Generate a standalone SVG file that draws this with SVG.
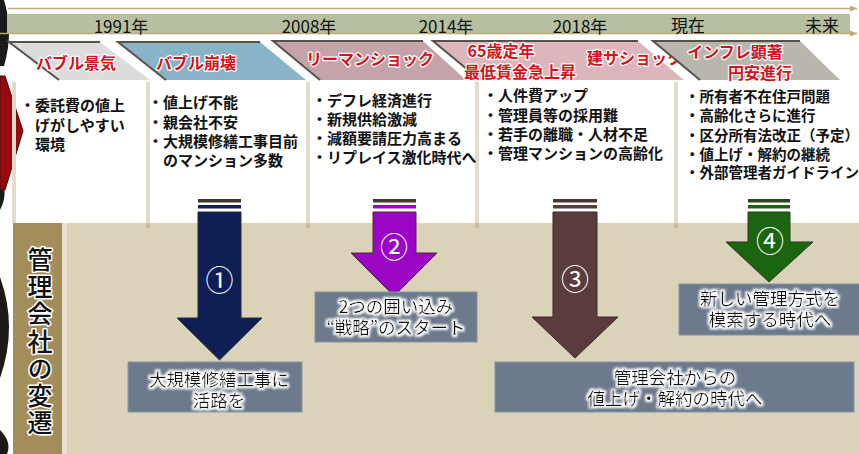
<svg xmlns="http://www.w3.org/2000/svg" width="859" height="454" viewBox="0 0 859 454">
<defs>
<style>
.yr{font-family:"Noto Sans CJK JP","Noto Sans",sans-serif;font-size:17px;font-weight:400;fill:#111;text-anchor:middle}
.bn{font-family:"Noto Sans CJK JP","Noto Sans",sans-serif;font-size:16px;font-weight:700;fill:#d2121c;stroke:#fff;stroke-width:2.5;stroke-linejoin:round;paint-order:stroke;text-anchor:middle}
.bl{font-family:"Noto Sans CJK JP","Noto Sans",sans-serif;font-size:15px;font-weight:700;fill:#111}
.bl5{font-size:14.5px}
.bx{font-family:"Noto Sans CJK JP","Noto Sans",sans-serif;font-size:17.5px;font-weight:400;fill:#111;text-anchor:middle;filter:url(#glow)}
.num{font-family:"Noto Sans CJK JP","Noto Sans",sans-serif;font-size:28px;font-weight:400;fill:#fff;text-anchor:middle}
.vt{font-family:"Noto Sans CJK JP","Noto Sans",sans-serif;font-size:25px;font-weight:500;fill:#111;stroke:#fff;stroke-width:3;stroke-linejoin:round;paint-order:stroke;writing-mode:vertical-rl;letter-spacing:2.2px}
.div{stroke:#e2dccb;stroke-width:4}
.divb{stroke:#c9bd9c;stroke-width:4}
.box{fill:#6d7a8c;stroke:#8893a2;stroke-width:1}
.sh{fill:none;stroke:#55524a;stroke-width:2}
.tl{stroke:#c0a878;stroke-width:1.5;fill:none}
</style>
<filter id="glow" x="-10%" y="-40%" width="120%" height="180%">
<feMorphology in="SourceAlpha" operator="dilate" radius="1.6" result="d"/>
<feGaussianBlur in="d" stdDeviation="0.9" result="b"/>
<feFlood flood-color="#ffffff"/>
<feComposite in2="b" operator="in" result="w"/>
<feMerge><feMergeNode in="w"/><feMergeNode in="SourceGraphic"/></feMerge>
</filter>
<marker id="ah" markerWidth="8" markerHeight="8" refX="7" refY="4" orient="auto" markerUnits="userSpaceOnUse">
<path d="M0,1 L7,4 L0,7 Z" fill="#c0a878"/>
</marker>
</defs>
<rect x="0" y="0" width="859" height="454" fill="#fff"/>

<g id="bottom-area">
<rect x="62" y="223" width="797" height="231" fill="#dbd2ba"/>
<rect x="62" y="223" width="5" height="231" fill="#e8e1cf"/>
<rect x="13" y="223" width="49" height="231" fill="#a38d5a"/>
</g>

<g id="left-edge">
<path d="M0,0 L4,0 Q14,32 4,66 L0,66 Z" fill="#1a1a1a"/>
<path d="M0,178 Q9,193 0,210 Z" fill="#1a1a1a"/>
<path d="M0,76 L5,76 L23,131 L5,190 L0,190 Z" fill="#9a0a0c" stroke="#3a1010" stroke-width="1"/>
<path d="M0,277 Q18,327 0,378 Z" fill="#1a1a1a"/>
<path d="M0,430 Q12,442 7,454 L0,454 Z" fill="#1a1a1a"/>
</g>

<g id="timeline">
<line class="tl" x1="8" y1="8.5" x2="857" y2="8.5" marker-end="url(#ah)"/>
<rect x="7" y="14" width="843" height="19" fill="#b6c0a1"/>
<line class="tl" x1="0" y1="33.5" x2="857" y2="33.5" marker-end="url(#ah)"/>
<text class="yr" x="121" y="32.5">1991年</text>
<text class="yr" x="309" y="32.5">2008年</text>
<text class="yr" x="446" y="32.5">2014年</text>
<text class="yr" x="580" y="32.5">2018年</text>
<text class="yr" x="688" y="32">現在</text>
<text class="yr" x="822" y="32">未来</text>
</g>

<g id="banner-bubble">
<polygon points="9,42 100,42 150,80 59,80" fill="#dcdcdc"/>
<polyline class="sh" points="59,80 9,42 100,42"/>
<text class="bn" x="76" y="69">バブル景気</text>
</g>
<g id="banner-collapse">
<polygon points="118,42 260,42 306,80 166,80" fill="#89b4c8"/>
<polyline class="sh" points="166,80 118,42 260,42"/>
<text class="bn" x="196" y="69">バブル崩壊</text>
</g>
<g id="banner-lehman">
<polygon points="273,41 423,41 466,80 320,80" fill="#c4a3a9"/>
<polyline class="sh" points="320,80 273,41 423,41"/>
<text class="bn" x="370" y="65">リーマンショック</text>
</g>
<g id="banner-2018">
<polygon points="433,41 638,41 684,80 480,80" fill="#dcb6ba"/>
<polyline class="sh" points="480,80 433,41 638,41"/>
<text class="bn" x="501" y="57">65歳定年</text>
<text class="bn" x="520" y="77.5">最低賃金急上昇</text>
<text class="bn" x="635" y="64">建サショック</text>
</g>
<g id="banner-now">
<polygon points="653,41 800,41 840,80 700,80" fill="#b9b6ae"/>
<polyline class="sh" points="700,80 653,41 800,41"/>
<text class="bn" x="735" y="58">インフレ顕著</text>
<text class="bn" x="760" y="79">円安進行</text>
</g>

<g id="dividers">
<line class="div" x1="14" y1="82" x2="14" y2="223"/>
<line class="div" x1="148" y1="82" x2="148" y2="223"/>
<line class="div" x1="308" y1="82" x2="308" y2="223"/>
<line class="div" x1="477" y1="82" x2="477" y2="223"/>
<line class="div" x1="676" y1="82" x2="676" y2="223"/>
<line class="divb" x1="148" y1="223" x2="148" y2="228"/>
<line class="divb" x1="308" y1="223" x2="308" y2="228"/>
<line class="divb" x1="477" y1="223" x2="477" y2="228"/>
<line class="divb" x1="676" y1="223" x2="676" y2="228"/>
</g>

<g id="col-1991">
<text class="bl" x="20" y="111">・委託費の値上</text>
<text class="bl" x="35" y="130.5">げがしやすい</text>
<text class="bl" x="35" y="150">環境</text>
</g>
<g id="col-bubble-collapse">
<text class="bl" x="148" y="108">・値上げ不能</text>
<text class="bl" x="148" y="127.5">・親会社不安</text>
<text class="bl" x="148" y="147">・大規模修繕工事目前</text>
<text class="bl" x="163" y="166">のマンション多数</text>
</g>
<g id="col-2008">
<text class="bl" x="312" y="105.5">・デフレ経済進行</text>
<text class="bl" x="312" y="124.5">・新規供給激減</text>
<text class="bl" x="312" y="143.5">・減額要請圧力高まる</text>
<text class="bl" x="312" y="162.5">・リプレイス激化時代へ</text>
</g>
<g id="col-2018">
<text class="bl" x="483" y="100.5">・人件費アップ</text>
<text class="bl" x="483" y="120.5">・管理員等の採用難</text>
<text class="bl" x="483" y="139.5">・若手の離職・人材不足</text>
<text class="bl" x="483" y="158.5">・管理マンションの高齢化</text>
</g>
<g id="col-now">
<text class="bl bl5" x="685" y="101.5">・所有者不在住戸問題</text>
<text class="bl bl5" x="685" y="120.5">・高齢化さらに進行</text>
<text class="bl bl5" x="685" y="140.5">・区分所有法改正（予定）</text>
<text class="bl bl5" x="685" y="159.5">・値上げ・解約の継続</text>
<text class="bl bl5" x="685" y="178">・外部管理者ガイドライン</text>
</g>

<g id="title-vertical">
<text class="vt" x="40" y="247">管理会社の変遷</text>
</g>

<g id="connectors">
<g id="arrow-1">
<rect x="198" y="199" width="43" height="3.5" fill="#3d3526"/>
<rect x="198" y="205" width="43" height="3.5" fill="#0d1f55"/>
<path d="M198,212 L241,212 L241,318 L262,318 L219.5,360 L177,318 L198,318 Z" fill="#0d1f55" stroke="#2a2a30" stroke-width="1"/>
</g>
<g id="arrow-2">
<rect x="373" y="199" width="43" height="3.5" fill="#4a3830"/>
<rect x="373" y="205" width="43" height="3.5" fill="#9a06c4"/>
<path d="M373,212 L416,212 L416,253 L437,253 L394,296 L351,253 L373,253 Z" fill="#9a06c4" stroke="#4a2a30" stroke-width="1"/>
</g>
<g id="arrow-3">
<rect x="553" y="199" width="44" height="3.5" fill="#4a3434"/>
<rect x="553" y="205" width="44" height="3.5" fill="#5a3c3c"/>
<path d="M553,212 L597,212 L597,317 L618,317 L575,358 L532,317 L553,317 Z" fill="#5a3c3c" stroke="#3a2a24" stroke-width="1"/>
</g>
<g id="arrow-4">
<rect x="748" y="199" width="42" height="3.5" fill="#2d4424"/>
<rect x="748" y="205" width="42" height="3.5" fill="#1b6510"/>
<path d="M748,212 L790,212 L790,242 L813,242 L769,282 L726,242 L748,242 Z" fill="#1b6510" stroke="#2a3a20" stroke-width="1"/>
</g>
<text class="num" x="219.5" y="290.5">①</text>
<text class="num" x="394" y="257.5">②</text>
<text class="num" x="575" y="289.5">③</text>
<text class="num" x="770" y="251.5">④</text>
</g>

<g id="box-1">
<rect class="box" x="128" y="362" width="174" height="50"/>
<text class="bx"><tspan x="219" y="386">大規模修繕工事に</tspan><tspan x="219" y="407">活路を</tspan></text>
</g>
<g id="box-2">
<rect class="box" x="315" y="292" width="162" height="50"/>
<text class="bx"><tspan x="396" y="313">2つの囲い込み</tspan><tspan x="396" y="334">“戦略”のスタート</tspan></text>
</g>
<g id="box-3">
<rect class="box" x="495" y="362" width="359" height="50"/>
<text class="bx"><tspan x="675" y="384">管理会社からの</tspan><tspan x="675" y="405">値上げ・解約の時代へ</tspan></text>
</g>
<g id="box-4">
<rect class="box" x="679" y="284" width="181" height="51"/>
<text class="bx"><tspan x="770" y="304.5">新しい管理方式を</tspan><tspan x="770" y="325.5">模索する時代へ</tspan></text>
</g>
</svg>
